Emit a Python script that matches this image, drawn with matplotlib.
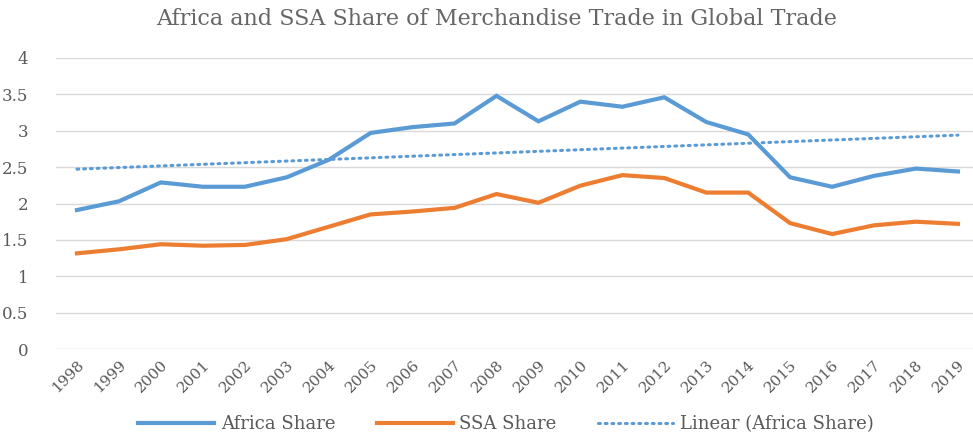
import matplotlib
matplotlib.use("Agg")
import matplotlib.pyplot as plt
import numpy as np

years = [str(y) for y in range(1998, 2020)]
africa_share = [1.91, 2.03, 2.29, 2.23, 2.23, 2.36, 2.60, 2.97, 3.05, 3.10, 3.48,
                3.13, 3.40, 3.33, 3.46, 3.12, 2.95, 2.36, 2.23, 2.38, 2.48, 2.44]
ssa_share = [1.315, 1.37, 1.44, 1.42, 1.43, 1.51, 1.68, 1.85, 1.89, 1.94, 2.13,
             2.01, 2.245, 2.39, 2.35, 2.15, 2.15, 1.73, 1.58, 1.70, 1.75, 1.72]
yticks = [0, 0.5, 1, 1.5, 2, 2.5, 3, 3.5, 4]
ytick_labels = ["0", "0.5", "1", "1.5", "2", "2.5", "3", "3.5", "4"]

BLUE = "#5B9BD5"
ORANGE = "#ED7D31"
TXT = "#595959"
GRID = "#D9D9D9"

plt.rcParams['font.family'] = ['DejaVu Serif']

fig = plt.figure(figsize=(9.73, 4.37), dpi=100)
W, H = 973, 437
ax = fig.add_axes([56 / W, 88 / H, (973 - 56) / W, (349 - 58) / H])

x = np.arange(len(years))
ax.plot(x, africa_share, color=BLUE, lw=3.0, solid_joinstyle='miter', label="Africa Share", zorder=3)
ax.plot(x, ssa_share, color=ORANGE, lw=3.0, solid_joinstyle='miter', label="SSA Share", zorder=3)
coef = np.polyfit(x, africa_share, 1)
ax.plot(x, np.polyval(coef, x), color=BLUE, lw=2.2, linestyle=(0, (0.6, 1.6)),
        dash_capstyle='round', label="Linear (Africa Share)", zorder=2)

ax.set_xlim(-0.5, (973 - 77) / 41.95)
ax.set_ylim(0, 4)
ax.set_yticks(yticks)
ax.set_yticklabels(ytick_labels)
ax.set_xticks(x)
ax.set_xticklabels(years, rotation=45, ha='right', va='top', rotation_mode='anchor')
ax.grid(axis='y', color=GRID, lw=1.0)
ax.set_axisbelow(True)
for s in ax.spines.values():
    s.set_visible(False)
ax.tick_params(axis='both', length=0, colors=TXT)
ax.tick_params(axis='y', pad=20, labelsize=12)
ax.tick_params(axis='x', pad=6, labelsize=11)

fig.text(497 / W, 1 - 19 / H, "Africa and SSA Share of Merchandise Trade in Global Trade",
         ha='center', va='center', fontsize=16, color="#666666")

leg = fig.legend(loc='center', bbox_to_anchor=(506 / W, 1 - 424 / H), ncol=3, frameon=False,
                 fontsize=13, handlelength=4.2, columnspacing=2.3, handletextpad=0.35)
for t in leg.get_texts():
    t.set_color(TXT)

fig.savefig("out.png", dpi=100)
